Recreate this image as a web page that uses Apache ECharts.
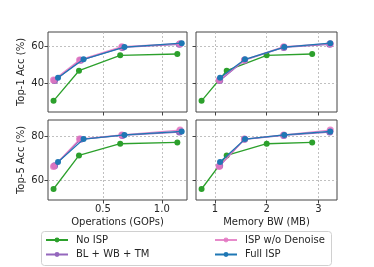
<!DOCTYPE html>
<html><head><meta charset="utf-8">
<script src="https://cdn.jsdelivr.net/npm/echarts@6/dist/echarts.min.js"></script>
<style>html,body{margin:0;padding:0;background:#fff}#c{width:374px;height:267px}</style>
</head><body><div id="c"></div>
<script>
const seriesNames = ['No ISP', 'BL + WB + TM', 'ISP w/o Denoise', 'Full ISP'];
const seriesColors = ['#2ca02c', '#9467bd', '#e377c2', '#1f77b4'];
// Operations (GOPs)
const opsNoISP = [0.081, 0.297, 0.647, 1.132];
const opsBL = [0.09, 0.31, 0.665, 1.15];
const opsNoDen = [0.081, 0.302, 0.661, 1.155];
const opsFull = [0.119, 0.336, 0.683, 1.169];
// Memory BW (MB)
const bwNoISP = [0.74, 1.226, 2.0, 2.88];
const bwBL = [1.09, 1.57, 2.33, 3.22];
const bwNoDen = [1.08, 1.57, 2.33, 3.23];
const bwFull = [1.097, 1.58, 2.34, 3.23];
// Top-1 accuracy (%)
const top1NoISP = [30.5, 46.9, 55.3, 56.0];
const top1BL = [41.5, 52.6, 59.6, 61.3];
const top1NoDen = [41.8, 52.8, 60.0, 61.6];
const top1Full = [43.1, 53.1, 59.8, 61.9];
// Top-5 accuracy (%)
const top5NoISP = [55.9, 71.2, 76.5, 77.1];
const top5BL = [66.5, 78.5, 80.3, 81.8];
const top5NoDen = [66.1, 78.6, 80.5, 82.7];
const top5Full = [68.2, 78.6, 80.5, 82.1];
// tick labels
const opsTicks = [0.5, 1.0];
const bwTicks = [1, 2, 3];
const top1Ticks = [40, 60];
const top5Ticks = [60, 80];

const opsX = [opsNoISP, opsBL, opsNoDen, opsFull];
const bwX = [bwNoISP, bwBL, bwNoDen, bwFull];
const top1Y = [top1NoISP, top1BL, top1NoDen, top1Full];
const top5Y = [top5NoISP, top5BL, top5NoDen, top5Full];

const FONT = 'DejaVu Sans';
const grids = [
  {left: 48, top: 32, width: 139, height: 80},
  {left: 196, top: 32, width: 141, height: 80},
  {left: 48, top: 120, width: 139, height: 80},
  {left: 196, top: 120, width: 141, height: 80}
].map(g => Object.assign({show: true, borderColor: '#444', borderWidth: 1, backgroundColor: 'transparent'}, g));

function xAx(gi, min, max, ticks, showLabel, name) {
  return {
    type: 'value', gridIndex: gi, min: min, max: max,
    axisLine: {show: false},
    axisTick: {show: true, inside: false, length: 3.5, lineStyle: {color: '#444'}, customValues: ticks},
    axisLabel: {show: showLabel, customValues: ticks, fontFamily: FONT, fontSize: 10, color: '#262626', margin: 4,
      formatter: v => (Number.isInteger(v) && ticks.some(t => !Number.isInteger(t))) ? v.toFixed(1) : String(v)},
    splitLine: {show: true, lineStyle: {color: '#b0b0b0', type: [2, 2], width: 0.8}},
    name: name || '', nameLocation: 'middle', nameGap: 17,
    nameTextStyle: {fontFamily: FONT, fontSize: 10, color: '#262626'}
  };
}
function yAx(gi, min, max, ticks, showLabel, name) {
  return {
    type: 'value', gridIndex: gi, min: min, max: max,
    axisLine: {show: false},
    axisTick: {show: true, inside: false, length: 3.5, lineStyle: {color: '#444'}, customValues: ticks},
    axisLabel: {show: showLabel, customValues: ticks, fontFamily: FONT, fontSize: 10, color: '#262626', margin: 4},
    splitLine: {show: true, lineStyle: {color: '#b0b0b0', type: [2, 2], width: 0.8}},
    name: name || '', nameLocation: 'middle', nameGap: 22,
    nameTextStyle: {fontFamily: FONT, fontSize: 10, color: '#262626'}
  };
}

const xAxis = [
  xAx(0, 0.034, 1.214, opsTicks, false),
  xAx(1, 0.632, 3.36, bwTicks, false),
  xAx(2, 0.034, 1.214, opsTicks, true, 'Operations (GOPs)'),
  xAx(3, 0.632, 3.36, bwTicks, true, 'Memory BW (MB)')
];
const yAxis = [
  yAx(0, 24.4, 68, top1Ticks, true, 'Top-1 Acc (%)'),
  yAx(1, 24.4, 68, top1Ticks, false),
  yAx(2, 50.9, 87.3, top5Ticks, true, 'Top-5 Acc (%)'),
  yAx(3, 50.9, 87.3, top5Ticks, false)
];

const panels = [
  {xs: opsX, ys: top1Y}, {xs: bwX, ys: top1Y},
  {xs: opsX, ys: top5Y}, {xs: bwX, ys: top5Y}
];
const series = [];
panels.forEach((p, pi) => {
  for (let s = 0; s < 4; s++) {
    const pink = s === 2 || s === 1;
    series.push({
      type: 'line', name: seriesNames[s], xAxisIndex: pi, yAxisIndex: pi,
      data: p.xs[s].map((x, i) => [x, p.ys[s][i]]),
      symbol: 'circle', symbolSize: pink ? 7 : 6,
      itemStyle: {color: seriesColors[s], opacity: s === 2 ? 0.85 : 1},
      lineStyle: {color: seriesColors[s], width: 1.3, opacity: s === 2 ? 0.85 : 1},
      emphasis: {disabled: true}, animation: false, z: 2 + s
    });
  }
});

const legendCommon = {
  orient: 'vertical', itemWidth: 22, itemHeight: 6, itemGap: 4.5,
  textStyle: {fontFamily: FONT, fontSize: 10, color: '#262626', padding: [0, 0, 0, 3]},
  padding: 0, selectedMode: false
};
const option = {
  animation: false,
  grid: grids, xAxis: xAxis, yAxis: yAxis, series: series,
  legend: [
    Object.assign({left: 45, top: 235, data: [seriesNames[0], seriesNames[1]]}, legendCommon),
    Object.assign({left: 214, top: 235, data: [seriesNames[2], seriesNames[3]]}, legendCommon)
  ],
  graphic: [{type: 'rect', shape: {x: 41.5, y: 231.5, width: 290, height: 34, r: 3},
    style: {fill: 'rgba(255,255,255,0.8)', stroke: '#d0d0d0', lineWidth: 1}, z: -1}]
};
const chart = echarts.init(document.getElementById('c'), null, {renderer: 'canvas'});
chart.setOption(option);
</script></body></html>
